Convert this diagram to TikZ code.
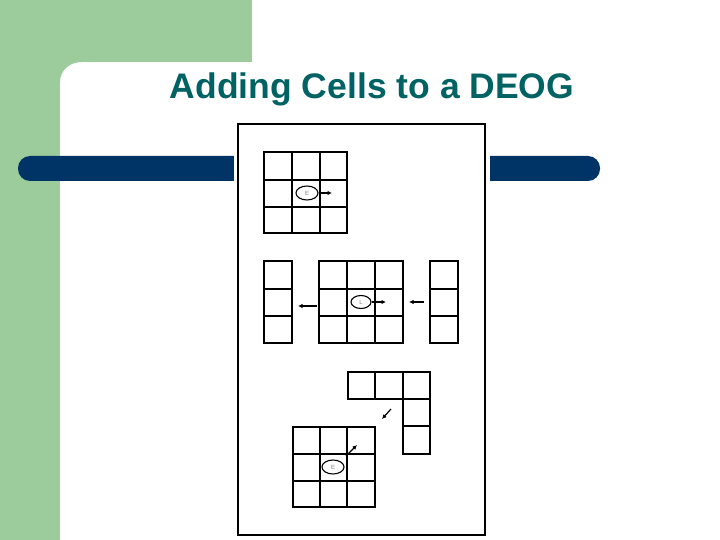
\documentclass[tikz,border=0pt]{standalone}
\usepackage{fontspec}
\setmainfont{Liberation Sans}
\usetikzlibrary{arrows.meta,shapes.geometric}
\definecolor{bggreen}{RGB}{156,204,156}
\definecolor{barblue}{RGB}{0,51,102}
\definecolor{titleteal}{RGB}{0,98,98}
\tikzset{
  thin grid/.style={draw=black, line width=1.1pt},
  thick grid/.style={draw=black, line width=1.8pt},
  cellmark/.style={ellipse, draw=black, line width=1.1pt, minimum width=22pt, minimum height=14pt, inner sep=0pt, font=\fontsize{6}{6}\selectfont, text=gray},
  move/.style={draw=black, line width=1.4pt, -{Latex[length=4.5pt,width=4.5pt]}}
}
\begin{document}
\begin{tikzpicture}[x=1pt,y=-1pt]
\useasboundingbox (0,0) rectangle (720,540);
% background
\fill[white] (0,0) rectangle (720,540);
\fill[bggreen] (0,0) rectangle (252,62);
\fill[bggreen] (0,0) rectangle (60,540);
% rounded inner corner of the white area
\fill[bggreen] (59.5,61.5) -- (82,61.5) -- (82,62) .. controls (70,62) and (60,70) .. (60,82) -- (59.5,82) -- cycle;
% bar
\fill[barblue, rounded corners=12pt] (18,156) rectangle (600,181);
% image area
\fill[white] (234,120) rectangle (490,540);
\draw[black, line width=2pt] (238,124.5) rectangle (485,535);
% title
\node[font=\fontsize{35.5}{35.5}\selectfont\bfseries, text=titleteal, anchor=base] (title) at (372,98.5) {Adding Cells to a DEOG};

% ---- top grid 3x3 ----
\draw[thin grid] (292,152) -- (292,233);
\draw[thick grid] (320,152) -- (320,233);
\draw[thick grid] (264,180) -- (347,180);
\draw[thin grid] (264,207) -- (347,207);
\draw[thick grid] (264,152) rectangle (347,233);
\node[cellmark] (e1) at (307,193) {E};
\coordinate (t1) at (332,193);
\draw[move] (e1.east) -- (t1);

% ---- middle row ----
% left column
\draw[thin grid] (264,289) -- (292,289);
\draw[thin grid] (264,316) -- (292,316);
\draw[thick grid] (264,261) rectangle (292,343);
% center grid
\draw[thin grid] (347,261) -- (347,343);
\draw[thick grid] (375,261) -- (375,343);
\draw[thin grid] (319,289) -- (403,289);
\draw[thin grid] (319,316) -- (403,316);
\draw[thick grid] (319,261) rectangle (403,343);
% right column
\draw[thin grid] (430,289) -- (458,289);
\draw[thin grid] (430,316) -- (458,316);
\draw[thick grid] (430,261) rectangle (458,343);
\node[cellmark, minimum width=20pt, minimum height=13pt] (e2) at (361,302) {L};
\coordinate (t2) at (386,302);
\draw[move] (e2.east) -- (t2);
\coordinate (l2a) at (317,306);
\coordinate (l2b) at (298,306);
\draw[move] (l2a) -- (l2b);
\coordinate (r2a) at (424,302);
\coordinate (r2b) at (409,302);
\draw[move] (r2a) -- (r2b);

% ---- bottom: L shape ----
\draw[thick grid] (348,372) -- (430,372) -- (430,454) -- (403,454) -- (403,399) -- (348,399) -- cycle;
\draw[thick grid] (375,372) -- (375,399);
\draw[thick grid] (403,372) -- (403,399) -- (430,399);
\draw[thin grid] (403,426) -- (430,426);
\coordinate (d1a) at (391,409);
\coordinate (d1b) at (382,419);
\draw[move, line width=1.2pt] (d1a) -- (d1b);

% ---- bottom-left grid 3x3 ----
\draw[thick grid] (320,427) -- (320,507);
\draw[thin grid] (347,427) -- (347,507);
\draw[thick grid] (293,454) -- (375,454);
\draw[thin grid] (293,481) -- (375,481);
\draw[thin grid] (293,427) rectangle (375,507);
\node[cellmark] (e3) at (333,467) {E};
\coordinate (d2a) at (346,456);
\coordinate (d2b) at (357,445);
\draw[move] (d2a) -- (d2b);
\end{tikzpicture}
\end{document}
